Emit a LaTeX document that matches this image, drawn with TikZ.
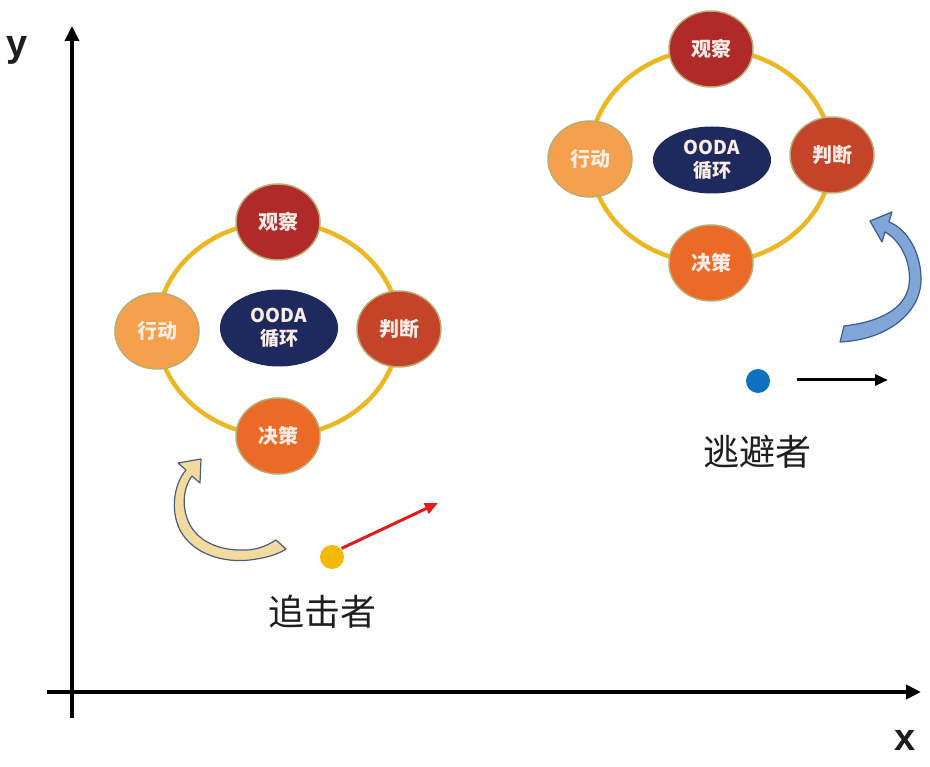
\documentclass[tikz,border=0pt]{standalone}
\usepackage{fontspec}
\setmainfont{Noto Sans CJK SC}
\newfontfamily\latinsans{Liberation Sans}
\usetikzlibrary{arrows.meta,shapes.geometric}
\definecolor{ringc}{HTML}{EBB823}
\definecolor{obsc}{HTML}{B02A2A}
\definecolor{judc}{HTML}{C4442A}
\definecolor{decc}{HTML}{EC6A27}
\definecolor{actc}{HTML}{F4A04C}
\definecolor{navyc}{HTML}{1E2A5E}
\definecolor{edgec}{HTML}{B9AE70}
\definecolor{labc}{HTML}{FBEDE6}
\definecolor{tanfill}{HTML}{F2DB9E}
\definecolor{tanedge}{HTML}{4E5A84}
\definecolor{bluefill}{HTML}{7FA6D6}
\definecolor{blueedge}{HTML}{3D5C8E}
\definecolor{redc}{HTML}{E01B1B}
\definecolor{dotyel}{HTML}{F5B800}
\definecolor{dotblue}{HTML}{1070C0}
\definecolor{textc}{HTML}{1E1E1E}
\tikzset{
  ring/.style={draw=ringc, line width=4.5pt},
  phase/.style={ellipse, draw=edgec, line width=1.5pt, minimum width=84pt, minimum height=76pt, inner sep=0pt, text=labc, font=\bfseries\fontsize{20}{22}\selectfont},
  core/.style={ellipse, fill=navyc, minimum width=118pt, inner sep=0pt, text=labc, align=center, font=\bfseries\fontsize{19}{23}\selectfont},
  axis/.style={line width=3.5pt, -{Triangle[length=15pt,width=14pt]}},
  move/.style={line width=3pt, -{Triangle[length=13pt,width=11pt]}},
  dot/.style={circle, minimum size=24pt, inner sep=0pt},
  who/.style={text=textc, font=\fontsize{36}{40}\selectfont},
  axlab/.style={text=textc, font=\latinsans\bfseries\fontsize{38}{40}\selectfont},
}
\begin{document}
\begin{tikzpicture}[x=1pt,y=-1pt]
\useasboundingbox[fill=white] (0,0) rectangle (930,767);
% axes
\coordinate (yo) at (72,718);
\coordinate (yt) at (72,26);
\coordinate (xo) at (47,692);
\coordinate (xt) at (921,692);
\draw[axis] (yo) -- (yt);
\draw[axis] (xo) -- (xt);
\node[axlab] (ylab) at (17,50) {y};
\node[axlab] (xlab) at (905,740) {x};
% left OODA cycle
\draw[ring] (278,329) ellipse [x radius=121, y radius=107];
\node[phase, fill=obsc] (Lobs) at (278,222) {观察};
\node[phase, fill=judc] (Ljud) at (399,329) {判断};
\node[phase, fill=decc] (Ldec) at (278,436) {决策};
\node[phase, fill=actc] (Lact) at (157,331) {行动};
\node[core, minimum height=77pt] (Lcore) at (279,328) {OODA\\循环};
% right OODA cycle
\draw[ring] (711,156) ellipse [x radius=121, y radius=107];
\node[phase, fill=obsc] (Robs) at (711,49) {观察};
\node[phase, fill=judc] (Rjud) at (832,155) {判断};
\node[phase, fill=decc] (Rdec) at (711,263) {决策};
\node[phase, fill=actc] (Ract) at (590,159) {行动};
\node[core, minimum height=67pt] (Rcore) at (712,160) {OODA\\循环};
% curved arrows
\filldraw[fill=tanfill, draw=tanedge, line width=1.2pt, line join=round]
  (201,459) -- (178,463) -- (186,470)
  .. controls (174,484) and (170,510) .. (180,530)
  .. controls (193,555) and (225,563) .. (250,560)
  .. controls (265,558) and (277,555) .. (286,549)
  -- (276,540)
  .. controls (265,547) and (255,550) .. (245,550)
  .. controls (222,551) and (200,543) .. (190,525)
  .. controls (181,508) and (183,488) .. (192,476)
  -- (200,483) -- cycle;
\filldraw[fill=bluefill, draw=blueedge, line width=1.2pt, line join=round]
  (870,221) -- (892,212) -- (889,222)
  .. controls (908,229) and (922,255) .. (921,282)
  .. controls (919,315) and (885,340) .. (840,342)
  -- (844,326)
  .. controls (878,322) and (905,310) .. (909,285)
  .. controls (912,262) and (900,240) .. (885,232)
  -- (882,242) -- cycle;
% pursuer
\node[dot, fill=dotyel] (pur) at (332,557) {};
\coordinate (purEnd) at (438,503);
\draw[move, draw=redc, fill=redc] (pur.north east) ++(1,0) -- (purEnd);
\node[who] (purLab) at (322,612) {追击者};
% evader
\node[dot, fill=dotblue] (eva) at (758,381) {};
\coordinate (evaStart) at (797,380);
\coordinate (evaEnd) at (888,380);
\draw[move, draw=black, fill=black] (evaStart) -- (evaEnd);
\node[who] (evaLab) at (757,452) {逃避者};
\end{tikzpicture}
\end{document}
